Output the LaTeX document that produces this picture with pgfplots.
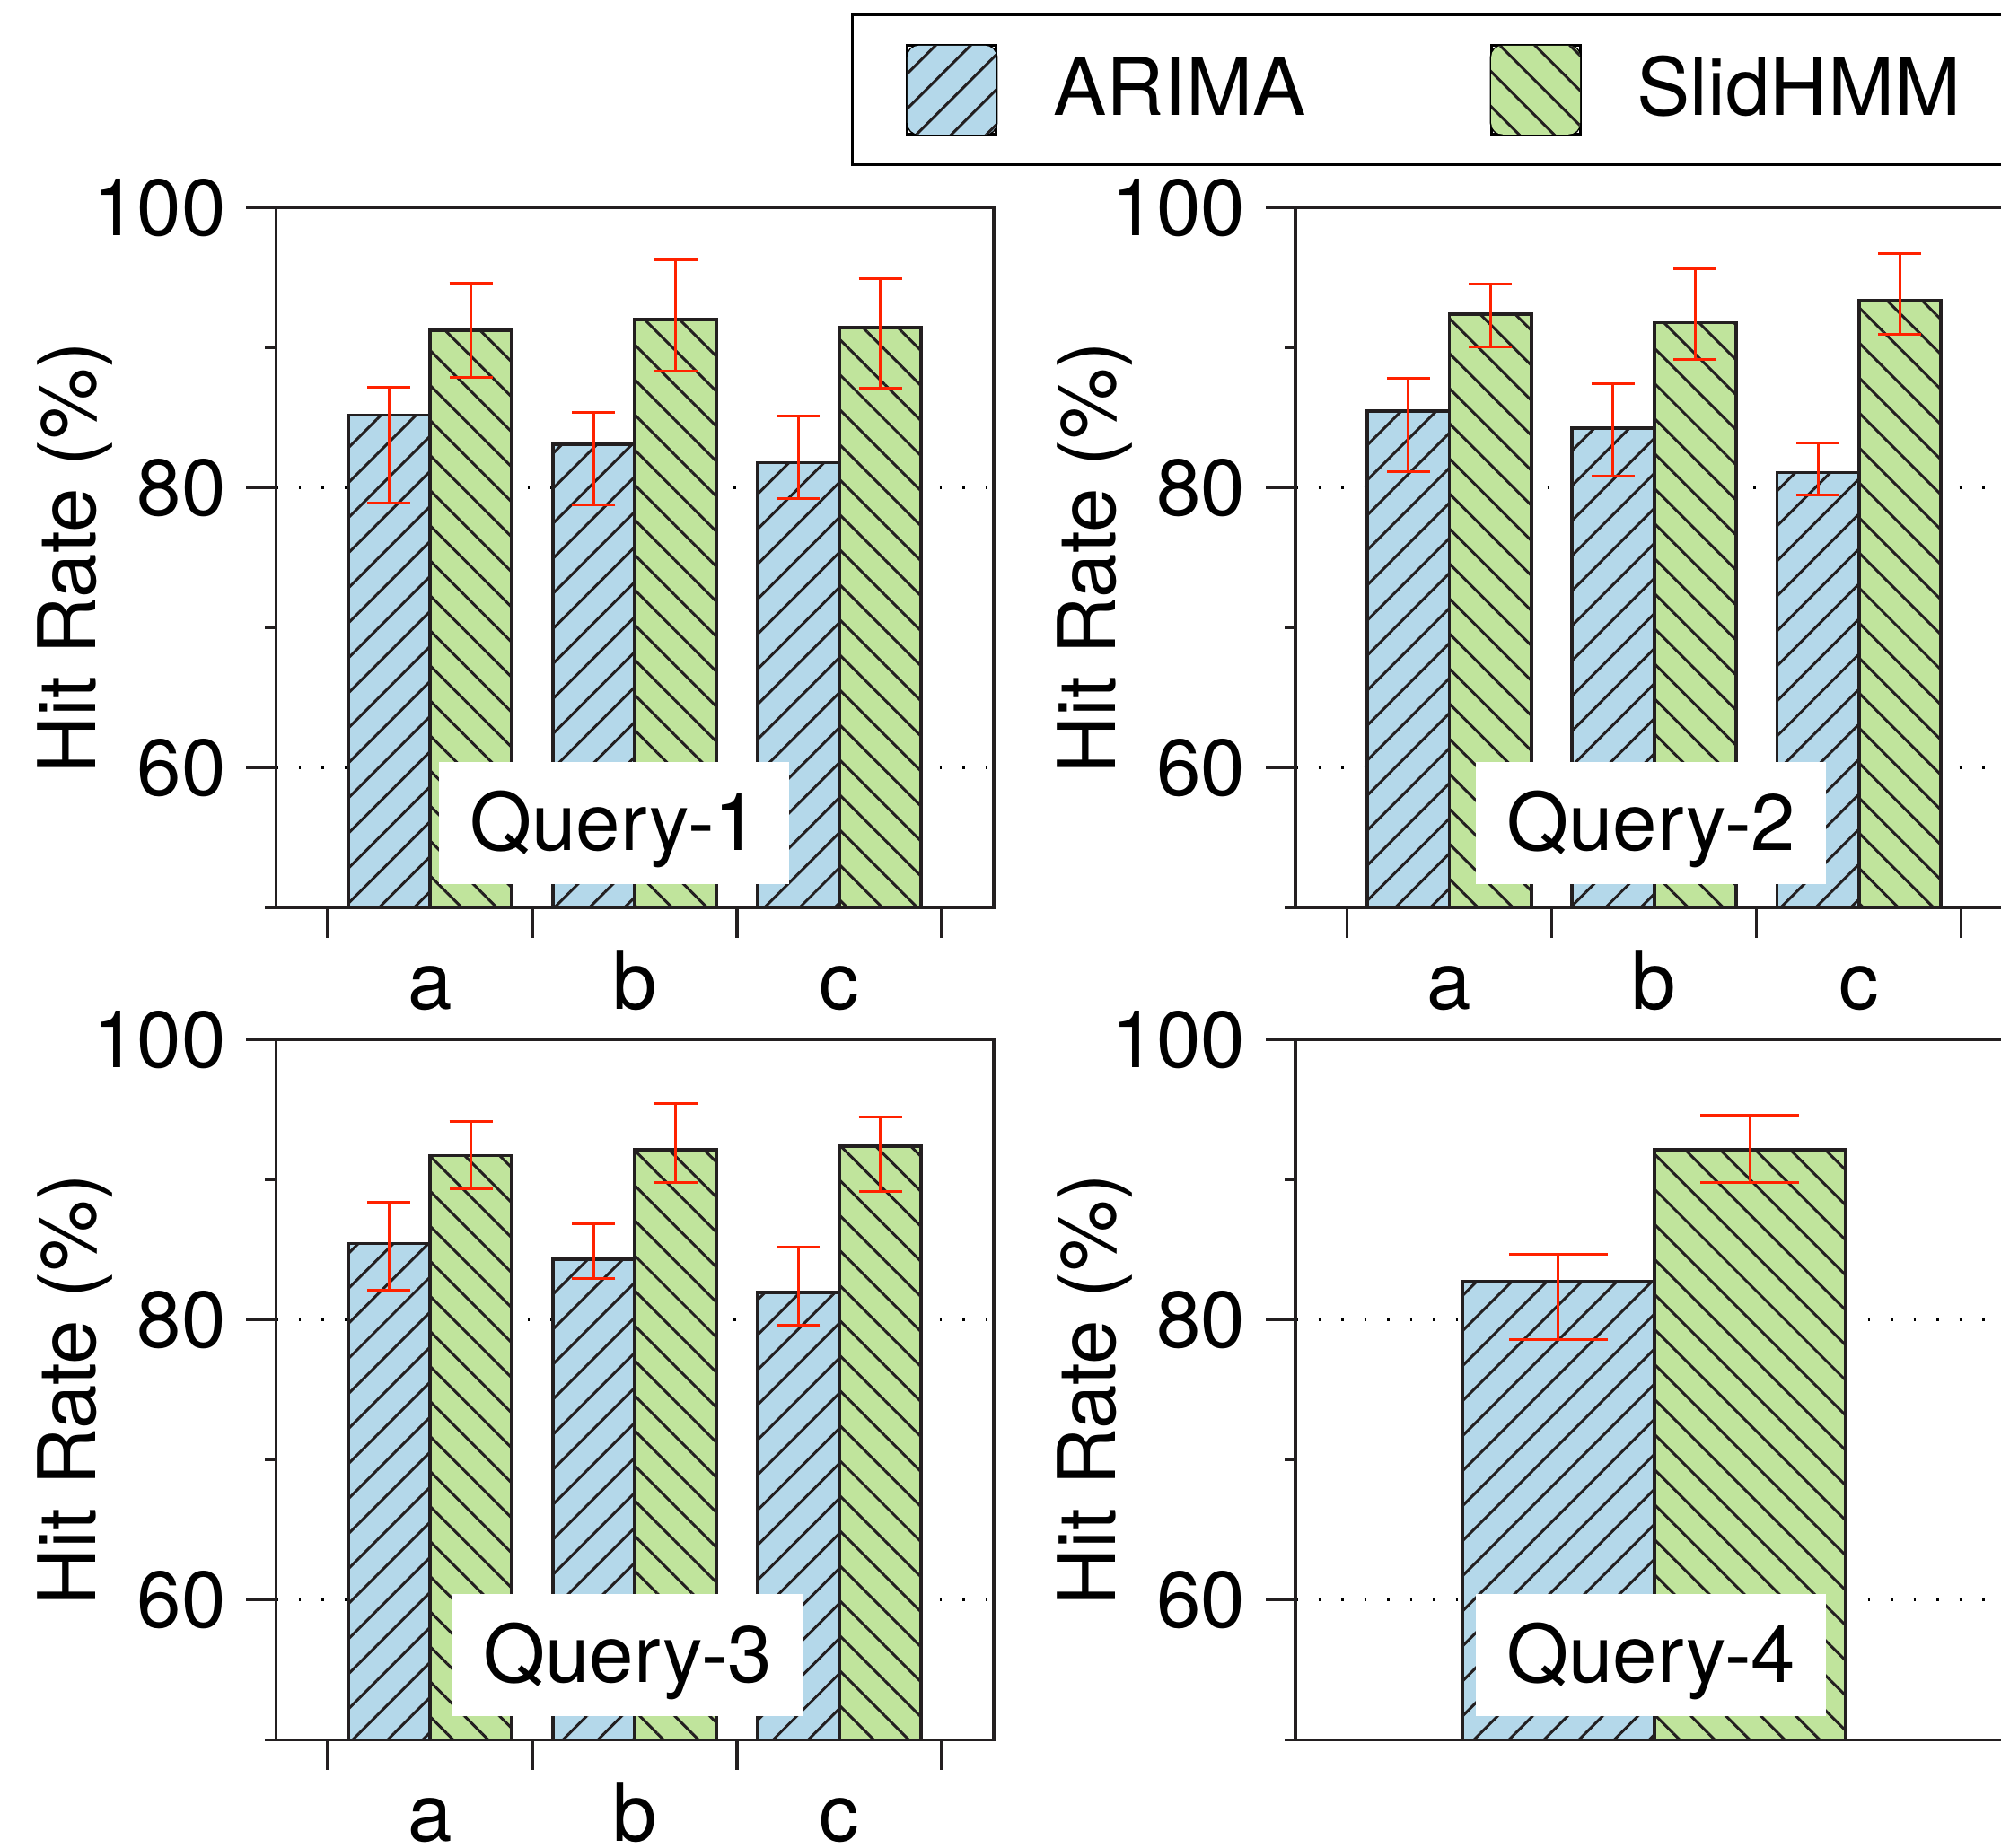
\documentclass[border=0pt]{standalone}
\usepackage{fontspec}
\setmainfont{TeX Gyre Heros}
\usepackage{pgfplots}
\pgfplotsset{compat=1.18}
\usepackage{pgfplotstable}
\usetikzlibrary{patterns.meta}

\definecolor{arimablue}{HTML}{B4D8EA}
\definecolor{hmmgreen}{HTML}{C0E49C}
\definecolor{hatchc}{HTML}{231F20}
\definecolor{errred}{HTML}{FF2200}

% Query-1
\pgfplotstableread{
x y ep em
-0.2 85.20 1.99 6.30
0.8 83.14 2.28 4.35
1.8 81.81 3.32 2.58
}\qAa
\pgfplotstableread{
x y ep em
0.2 91.24 3.38 3.35
1.2 92.05 4.27 3.68
2.2 91.46 3.50 4.35
}\qAh
% Query-2
\pgfplotstableread{
x y ep em
-0.2 85.51 2.34 4.37
0.8 84.29 3.15 3.42
1.8 81.10 2.11 1.58
}\qBa
\pgfplotstableread{
x y ep em
0.2 92.44 2.11 2.39
1.2 91.81 3.87 2.61
2.2 93.38 3.38 2.38
}\qBh
% Query-3
\pgfplotstableread{
x y ep em
-0.2 85.45 2.97 3.33
0.8 84.32 2.52 1.39
1.8 81.95 3.25 2.33
}\qCa
\pgfplotstableread{
x y ep em
0.2 91.73 2.41 2.35
1.2 92.14 3.29 2.35
2.2 92.40 2.11 3.23
}\qCh
% Query-4
\pgfplotstableread{
x y ep em
0.532 82.75 1.96 4.16
}\qDa
\pgfplotstableread{
x y ep em
1.468 92.16 2.43 2.36
}\qDh

\tikzset{
  qlabel/.style={fill=white, inner xsep=3.4mm, inner ysep=0pt, text height=9.8mm, text depth=3.8mm, anchor=base},
}

\pgfplotsset{
  panel/.style={
    scale only axis, width=79.96mm, height=78.0mm,
    xmin=-0.752, xmax=2.754, ymin=50, ymax=100,
    ytick={60,80,100}, minor ytick={50,70,90},
    ytick pos=left, tick align=outside,
    major tick length=3.3mm, minor tick length=1.2mm,
    tick style={line width=0.33mm, hatchc},
    ymajorgrids,
    major grid style={dash pattern=on 0.25mm off 2.3mm, line width=0.3mm, black},
    axis line style={line width=0.33mm, hatchc},
    ylabel={Hit Rate (\%)},
    ylabel style={at={(axis description cs:-0.251,0.5)}, anchor=base},
    yticklabel style={anchor=east, inner sep=0pt, xshift=-2.2mm},
    /pgf/number format/assume math mode=true,
    font=\fontsize{25.3}{30}\selectfont,
  },
  abcx/.style={
    xtick={-0.5,0.5,1.5,2.5}, xticklabels={}, xtick pos=bottom,
    extra x ticks={0,1,2}, extra x tick labels={a,b,c},
    extra x tick style={major tick length=0pt,
      xticklabel style={anchor=base, inner sep=0pt, yshift=-11.3mm}},
  },
  arima/.style={ybar, bar width=#1, bar shift=0pt, draw=hatchc, line width=0.38mm,
    fill=arimablue,
    postaction={pattern={Lines[angle=45,distance=2.76mm,line width=0.3mm]}, pattern color=hatchc},
  },
  hmm/.style={ybar, bar width=#1, bar shift=0pt, draw=hatchc, line width=0.38mm,
    fill=hmmgreen,
    postaction={pattern={Lines[angle=-45,distance=2.76mm,line width=0.3mm]}, pattern color=hatchc},
  },
  errs/.style={
    error bars/y dir=both, error bars/y explicit,
    error bars/error bar style={errred, line width=0.3mm},
    error bars/error mark options={rotate=90, errred, mark size=#1, line width=0.3mm},
  },
}

\begin{document}
\begin{tikzpicture}[trim right=222.9mm]
\path (0,0) rectangle (222.9mm,-205.8mm);

% Panel 1
\begin{axis}[panel, abcx, at={(30.74mm,-101.17mm)}, anchor=south west,
  legend columns=2,
  legend style={at={(axis description cs:0.8011,1.2775)}, anchor=north west,
    draw=black, line width=0.3mm, inner xsep=6mm, inner ysep=3.25mm,
    /tikz/every odd column/.append style={column sep=6.2mm},
    /tikz/every even column/.append style={column sep=20.45mm},
    nodes={inner sep=0pt, anchor=base west}},
]
\addlegendimage{legend image code/.code={
    \path[use as bounding box] (0mm,-2.1mm) rectangle (9.9mm,7.8mm);
    \begin{scope}
      \clip[rounded corners=1.3mm] (0mm,-2.1mm) rectangle (9.9mm,7.8mm);
      \fill[arimablue] (-2mm,-4mm) rectangle (12mm,10mm);
      \foreach \c in {-14.6,-10.7,-6.8,-2.9,1.0,4.9,8.8} {
        \draw[hatchc, line width=0.3mm] (\c mm-5mm,-7.1mm) -- (\c mm+15mm,12.9mm);
      }
    \end{scope}
  }}
\addlegendentry{ARIMA}
\addlegendimage{legend image code/.code={
    \path[use as bounding box] (0mm,-2.1mm) rectangle (9.9mm,7.8mm);
    \begin{scope}
      \clip[rounded corners=1.3mm] (0mm,-2.1mm) rectangle (9.9mm,7.8mm);
      \fill[hmmgreen] (-2mm,-4mm) rectangle (12mm,10mm);
      \foreach \c in {-14.6,-10.7,-6.8,-2.9,1.0,4.9,8.8} {
        \draw[hatchc, line width=0.3mm] (\c mm-5mm,12.8mm) -- (\c mm+15mm,-7.2mm);
      }
    \end{scope}
  }}
\addlegendentry{SlidHMM}
\addplot[arima=0.4, errs=2.4mm, forget plot] table[x=x, y=y, y error plus=ep, y error minus=em] {\qAa};
\addplot[hmm=0.4, errs=2.4mm, forget plot] table[x=x, y=y, y error plus=ep, y error minus=em] {\qAh};
\node[qlabel] at (axis cs:0.90,54.12) {Query-1};
\end{axis}

% Panel 2
\begin{axis}[panel, abcx, at={(144.3mm,-101.17mm)}, anchor=south west]
\addplot[arima=0.4, errs=2.4mm] table[x=x, y=y, y error plus=ep, y error minus=em] {\qBa};
\addplot[hmm=0.4, errs=2.4mm] table[x=x, y=y, y error plus=ep, y error minus=em] {\qBh};
\node[qlabel] at (axis cs:0.985,54.12) {Query-2};
\end{axis}

% Panel 3
\begin{axis}[panel, abcx, at={(30.74mm,-193.85mm)}, anchor=south west]
\addplot[arima=0.4, errs=2.4mm] table[x=x, y=y, y error plus=ep, y error minus=em] {\qCa};
\addplot[hmm=0.4, errs=2.4mm] table[x=x, y=y, y error plus=ep, y error minus=em] {\qCh};
\node[qlabel] at (axis cs:0.966,54.12) {Query-3};
\end{axis}

% Panel 4
\begin{axis}[panel, xtick=\empty, at={(144.3mm,-193.85mm)}, anchor=south west]
\addplot[arima=0.936, errs=5.5mm] table[x=x, y=y, y error plus=ep, y error minus=em] {\qDa};
\addplot[hmm=0.936, errs=5.5mm] table[x=x, y=y, y error plus=ep, y error minus=em] {\qDh};
\node[qlabel] at (axis cs:0.985,54.12) {Query-4};
\end{axis}
\end{tikzpicture}
\end{document}
